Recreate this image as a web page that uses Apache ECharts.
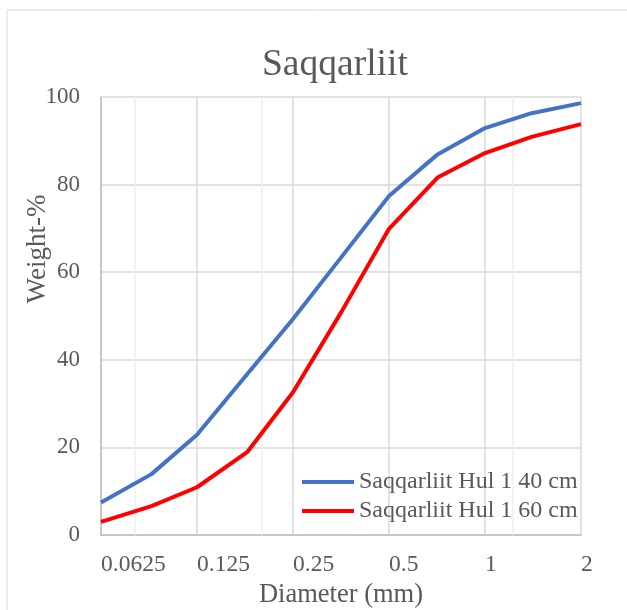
<!DOCTYPE html>
<html>
<head>
<meta charset="utf-8">
<script src="https://cdn.jsdelivr.net/npm/echarts@6/dist/echarts.min.js"></script>
<style>html,body{margin:0;padding:0;background:#fff}#c{width:627px;height:610px}</style>
</head>
<body>
<div id="c"></div>
<script>
var sizes = [0.0625, 0.09, 0.125, 0.18, 0.25, 0.355, 0.5, 0.71, 1, 1.4, 2];
var hul40 = [7.4, 13.9, 22.9, 36.8, 49.3, 63.5, 77.4, 86.9, 92.9, 96.3, 98.6];
var hul60 = [3.0, 6.6, 10.9, 19.0, 32.6, 51.0, 69.9, 81.6, 87.2, 90.9, 93.8];
var xTicks = [0.0625, 0.125, 0.25, 0.5, 1, 2];
var xTickLabels = ['0.0625', '0.125', '0.25', '0.5', '1', '2'];
var minorGrid = [0.0786, 0.1955, 1.223];
var seriesNames = ['Saqqarliit Hul 1 40 cm', 'Saqqarliit Hul 1 60 cm'];

var FONT = 'Liberation Serif';
var GRAY = '#595959';

function pairs(xs, ys) { return xs.map(function (x, i) { return [x, ys[i]]; }); }

var chart = echarts.init(document.getElementById('c'), null, { renderer: 'canvas' });
chart.setOption({
  animation: false,
  backgroundColor: '#fff',
  title: {
    text: 'Saqqarliit',
    left: 257, top: 41,
    textStyle: { fontFamily: FONT, fontSize: 37.5, fontWeight: 'normal', color: GRAY }
  },
  graphic: [
    { type: 'rect', shape: { x: 7, y: 10, width: 700, height: 700 }, style: { fill: 'none', stroke: '#D9D9D9', lineWidth: 1 }, silent: true, z: -10 },
    { type: 'text', x: 38, y: 249, rotation: Math.PI / 2,
      style: { text: 'Weight-%', fontFamily: FONT, fontSize: 27, fill: GRAY, align: 'center', verticalAlign: 'middle' } }
  ],
  legend: {
    orient: 'vertical',
    left: 302, top: 470,
    padding: 0,
    itemGap: 5,
    itemWidth: 52, itemHeight: 4,
    icon: 'rect',
    textStyle: { fontFamily: FONT, fontSize: 24, color: GRAY, lineHeight: 24 },
    data: seriesNames
  },
  grid: { left: 101, right: 46, top: 97, bottom: 75, containLabel: false, outerBoundsMode: 'none' },
  xAxis: {
    type: 'log', logBase: 2, min: xTicks[0], max: xTicks[xTicks.length - 1],
    name: 'Diameter (mm)', nameLocation: 'middle', nameGap: 47,
    nameTextStyle: { fontFamily: FONT, fontSize: 26.5, color: GRAY },
    axisLine: { show: true, lineStyle: { color: '#BFBFBF', width: 1.5 } },
    axisTick: { show: false },
    axisLabel: {
      fontFamily: FONT, fontSize: 23.5, color: GRAY, margin: 18, align: 'left',
      formatter: function (v) {
        var best = 0, d = Infinity;
        xTicks.forEach(function (t, i) { var dd = Math.abs(Math.log(v) - Math.log(t)); if (dd < d) { d = dd; best = i; } });
        return xTickLabels[best];
      }
    },
    splitLine: { show: true, lineStyle: { color: '#D9D9D9', width: 1.5 } }
  },
  yAxis: {
    type: 'value', min: 0, max: 100, interval: 20,
    axisLine: { show: true, lineStyle: { color: '#BFBFBF', width: 1.5 } },
    axisTick: { show: false },
    axisLabel: { fontFamily: FONT, fontSize: 23, color: GRAY, margin: 21 },
    splitLine: { show: true, lineStyle: { color: '#D9D9D9', width: 1.5 } }
  },
  series: [
    {
      name: seriesNames[0], type: 'line', data: pairs(sizes, hul40),
      symbol: 'none', color: '#4472C4', lineStyle: { width: 4, color: '#4472C4' }, z: 3,
      markLine: {
        silent: true, symbol: 'none', label: { show: false },
        lineStyle: { color: '#EFEFEF', width: 1.5, type: 'solid' },
        data: minorGrid.map(function (v) { return { xAxis: v }; }),
        z: 1
      }
    },
    {
      name: seriesNames[1], type: 'line', data: pairs(sizes, hul60),
      symbol: 'none', color: '#FF0000', lineStyle: { width: 4, color: '#FF0000' }, z: 3
    }
  ]
});
</script>
</body>
</html>
